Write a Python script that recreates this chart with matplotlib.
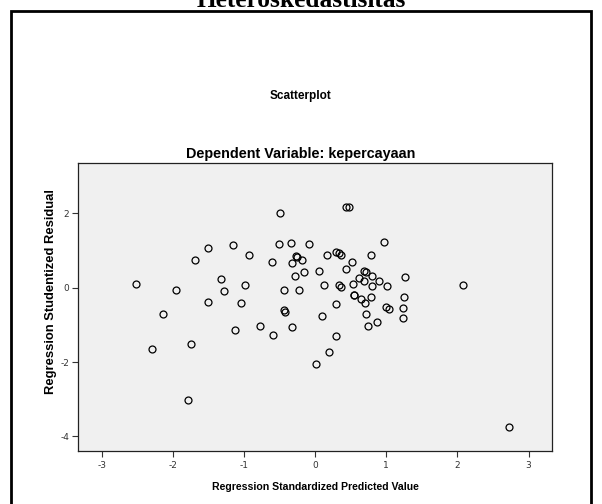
import matplotlib
matplotlib.use("Agg")
import matplotlib.pyplot as plt
from matplotlib.patches import Rectangle

plt.rcParams['axes.unicode_minus'] = False

# nilai prediksi terstandar (sumbu x) dan residual terstudentisasi (sumbu y)
pred = [-2.52, -2.29, -2.14, -1.96, -1.79, -1.74, -1.69, -1.51, -1.50, -1.32,
        -1.28, -1.16, -1.13, -1.04, -0.98, -0.93, -0.78, -0.60, -0.59, -0.51,
        -0.49, -0.44, -0.44, -0.42, -0.34, -0.33, -0.32, -0.28, -0.27, -0.26,
        -0.23, -0.18, -0.16, -0.09, 0.01, 0.05, 0.10, 0.12, 0.16, 0.19,
        0.29, 0.29, 0.29, 0.33, 0.36, 0.33, 0.36, 0.44, 0.44, 0.47,
        0.52, 0.53, 0.54, 0.55, 0.62, 0.64, 0.68, 0.69, 0.71, 0.70,
        0.71, 0.74, 0.79, 0.80, 0.80, 0.79, 0.87, 0.90, 0.97, 1.00,
        1.04, 1.01, 1.24, 1.24, 1.25, 1.26, 2.08, 2.72]
resid = [0.11, -1.65, -0.71, -0.07, -3.01, -1.52, 0.74, 1.06, -0.39, 0.24,
         -0.10, 1.15, -1.13, -0.42, 0.07, 0.87, -1.03, 0.70, -1.26, 1.17,
         2.01, -0.06, -0.61, -0.65, 1.20, 0.65, -1.06, 0.30, 0.85, 0.83,
         -0.05, 0.73, 0.42, 1.17, -2.06, 0.45, -0.75, 0.06, 0.87, -1.72,
         -0.43, -1.30, 0.97, 0.93, 0.87, 0.07, 0.03, 0.51, 2.17, 2.17,
         0.68, 0.09, -0.20, -0.21, 0.26, -0.30, 0.19, 0.46, 0.42, -0.41,
         -0.70, -1.03, 0.88, 0.31, 0.04, -0.24, -0.91, 0.19, 1.23, -0.51,
         -0.57, 0.05, -0.55, -0.81, -0.26, 0.28, 0.06, -3.74]

xticks = [-3, -2, -1, 0, 1, 2, 3]
yticks = [-4, -2, 0, 2]

fig = plt.figure(figsize=(6.02, 5.04), dpi=100)

# bingkai hitam di sekeliling grafik
fig.patches.append(Rectangle((11 / 602, -0.05), 580 / 602, 1.05 - 11 / 504,
                             transform=fig.transFigure, fill=False,
                             edgecolor='black', linewidth=2))

# judul atas yang terpotong
fig.text(0.5, 1 - 7 / 504, 'Heteroskedastisitas', ha='center', va='baseline',
         family='Liberation Serif', weight='bold', fontsize=18.3)

fig.text(0.5, 1 - 96 / 504, 'Scatterplot', ha='center', va='center',
         family='Liberation Sans', weight='bold', fontsize=8.5)
fig.text(0.5, 1 - 154 / 504, 'Dependent Variable: kepercayaan', ha='center',
         va='center', family='Liberation Sans', weight='bold', fontsize=10.4)

ax = fig.add_axes([78.3 / 602, 1 - 451 / 504, (551.7 - 78.3) / 602, (451 - 163) / 504])
ax.set_facecolor('#f0f0f0')
ax.plot(pred, resid, 'o', markerfacecolor='none', markeredgecolor='black',
        markersize=5, markeredgewidth=0.9)

ax.set_xlim(-3.33, 3.325)
ax.set_ylim(-4.39, 3.35)
ax.set_xticks(xticks)
ax.set_yticks(yticks)
ax.tick_params(direction='out', length=4, width=0.8, labelsize=6.5,
               colors='#333333', labelcolor='#333333')
ax.tick_params(axis='y', pad=2.5)
for s in ax.spines.values():
    s.set_color('#222222')
    s.set_linewidth(0.9)

ax.set_xlabel('Regression Standardized Predicted Value', family='Liberation Sans',
              weight='bold', fontsize=7.6)
ax.set_ylabel('Regression Studentized Residual', family='Liberation Sans',
              weight='bold', fontsize=9.4)
ax.xaxis.set_label_coords(0.5, -0.108)
ax.yaxis.set_label_coords(-0.044, 0.554)

fig.savefig('out.png', dpi=100)
